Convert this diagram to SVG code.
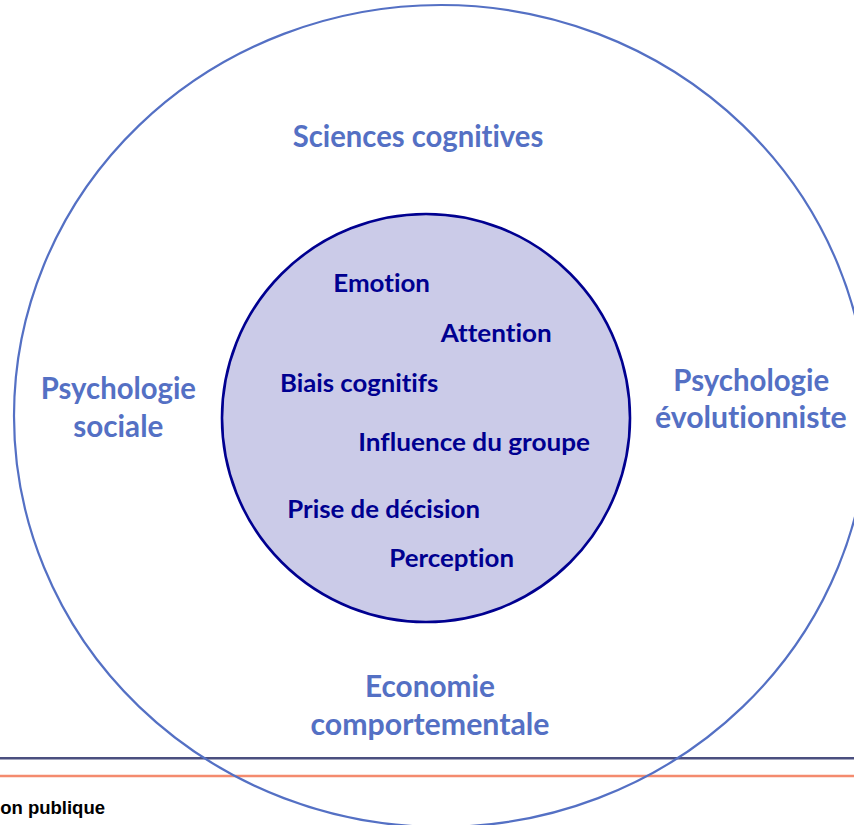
<svg xmlns="http://www.w3.org/2000/svg" width="854" height="825" viewBox="0 0 854 825">
<style>
text{font-variant-ligatures:none;font-feature-settings:"liga" 0,"clig" 0,"dlig" 0}
.outer{font-family:"Lato","Open Sans","DejaVu Sans",sans-serif;font-weight:700;font-size:29.5px;fill:#5470C4}
.inner{font-family:"Lato","Open Sans","DejaVu Sans",sans-serif;font-weight:700;font-size:25.5px;fill:#000090}
.foot{font-family:"Liberation Sans",Arial,sans-serif;font-weight:700;font-size:18.5px;fill:#000000}
</style>
<rect width="854" height="825" fill="#ffffff"/>
<g id="footer-lines">
<line x1="0" y1="758.3" x2="854" y2="758.3" stroke="#4B4F7F" stroke-width="2.4"/>
<line x1="0" y1="776" x2="854" y2="776" stroke="#F48B6E" stroke-width="2.4"/>
</g>
<g id="outer-circle">
<ellipse cx="441" cy="416" rx="427" ry="411" fill="none" stroke="#5470C4" stroke-width="2.2"/>
<text class="outer" x="292.7" y="146.7" textLength="250.6" lengthAdjust="spacingAndGlyphs">Sciences cognitives</text>
</g>
<g id="psychologie-sociale">
<text class="outer" x="40.7" y="399" textLength="155.3" lengthAdjust="spacingAndGlyphs">Psychologie</text>
<text class="outer" x="73.3" y="437.3" textLength="90" lengthAdjust="spacingAndGlyphs">sociale</text>
</g>
<g id="psychologie-evolutionniste">
<text class="outer" x="673.3" y="390.7" textLength="156" lengthAdjust="spacingAndGlyphs">Psychologie</text>
<text class="outer" x="655" y="428.3" textLength="191.7" lengthAdjust="spacingAndGlyphs">évolutionniste</text>
</g>
<g id="economie-comportementale">
<text class="outer" x="365" y="697" textLength="130" lengthAdjust="spacingAndGlyphs">Economie</text>
<text class="outer" x="310.5" y="735" textLength="239" lengthAdjust="spacingAndGlyphs">comportementale</text>
</g>
<g id="inner-circle">
<circle cx="426" cy="418" r="204" fill="#CBCBE8" stroke="#000090" stroke-width="2.6"/>
<text class="inner" x="333.3" y="291.7" textLength="96.7" lengthAdjust="spacingAndGlyphs">Emotion</text>
<text class="inner" x="440.7" y="342.3" textLength="111" lengthAdjust="spacingAndGlyphs">Attention</text>
<text class="inner" x="280" y="391.7" textLength="158.3" lengthAdjust="spacingAndGlyphs">Biais cognitifs</text>
<text class="inner" x="358.3" y="451" textLength="231.7" lengthAdjust="spacingAndGlyphs">Influence du groupe</text>
<text class="inner" x="287.3" y="518.3" textLength="192.7" lengthAdjust="spacingAndGlyphs">Prise de décision</text>
<text class="inner" x="389.3" y="567.3" textLength="124.7" lengthAdjust="spacingAndGlyphs">Perception</text>
</g>
<g id="footer-text">
<text class="foot" x="105" y="814" text-anchor="end">on publique</text>
</g>
</svg>
